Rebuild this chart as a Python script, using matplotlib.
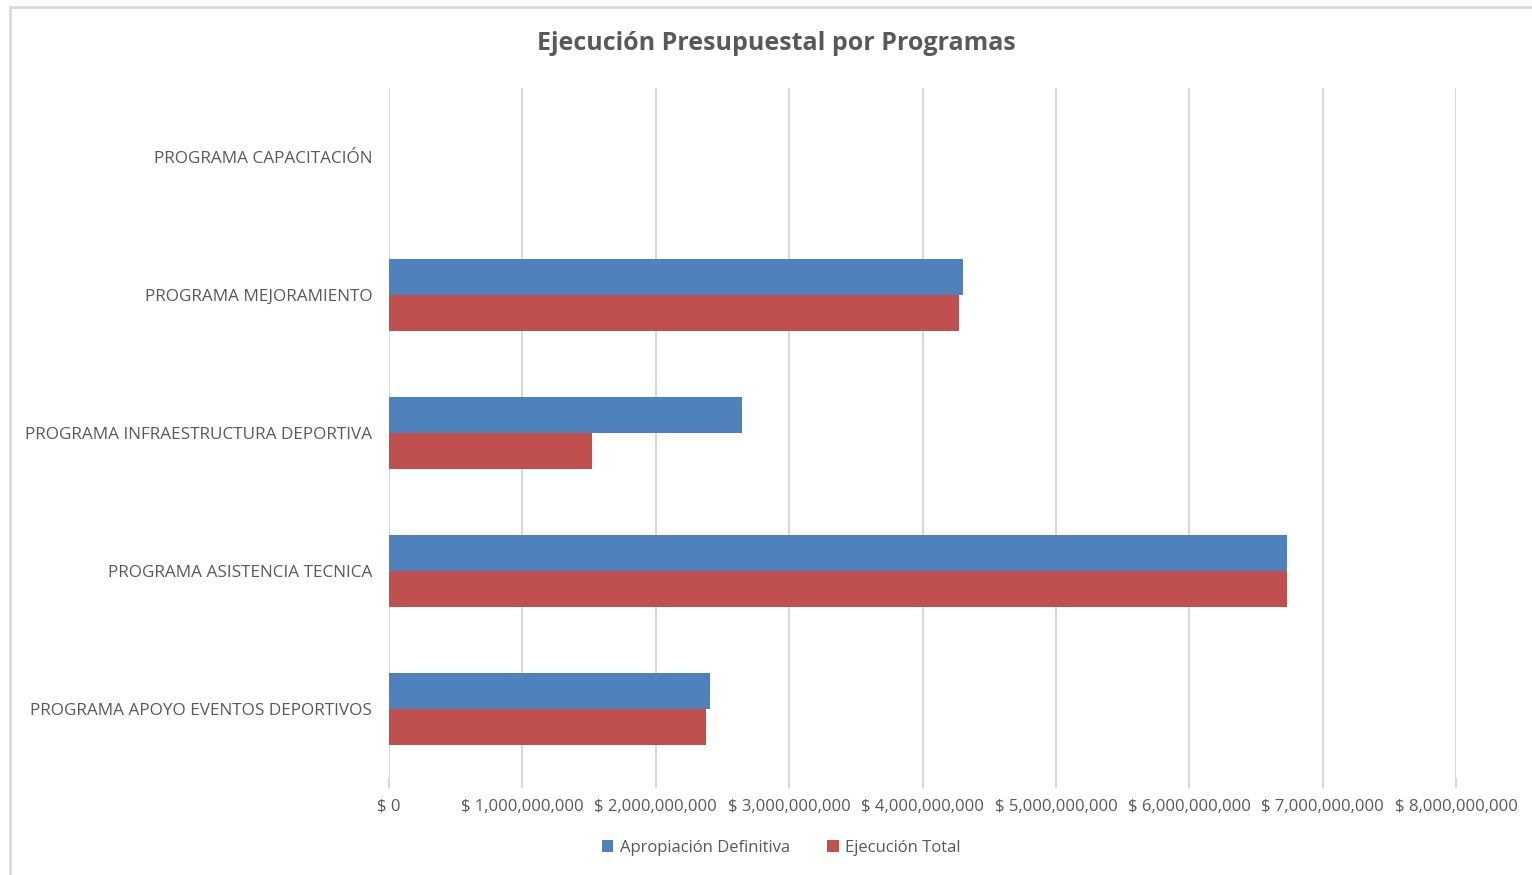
import numpy as np
import matplotlib.pyplot as plt
from matplotlib.patches import Rectangle
from matplotlib.ticker import FuncFormatter

programas = ['PROGRAMA APOYO EVENTOS DEPORTIVOS', 'PROGRAMA ASISTENCIA TECNICA',
             'PROGRAMA INFRAESTRUCTURA DEPORTIVA', 'PROGRAMA MEJORAMIENTO',
             'PROGRAMA CAPACITACIÓN']
apropiacion = [2.41e9, 6.73e9, 2.65e9, 4.30e9, 0]
ejecucion = [2.38e9, 6.73e9, 1.52e9, 4.27e9, 0]
series = ['Apropiación Definitiva', 'Ejecución Total']

plt.rcParams['font.family'] = ['Open Sans', 'DejaVu Sans']
gris = '#595959'

fig = plt.figure(figsize=(15.32, 8.75), dpi=100)
fig.patches.append(Rectangle((10 / 1532, -0.01), 1.1, 1 - 7 / 875 + 0.01, transform=fig.transFigure,
                             fill=False, edgecolor='#d9d9d9', linewidth=2))
ax = fig.add_axes([389 / 1532, 1 - 778 / 875, (1456 - 389) / 1532, (778 - 88) / 875])

y = np.arange(len(programas))
h = 0.26
ax.barh(y + h / 2, apropiacion, height=h, color='#4f81bd', label=series[0], zorder=3)
ax.barh(y - h / 2, ejecucion, height=h, color='#c0504d', label=series[1], zorder=3)

ax.set_xlim(0, 8e9)
ax.set_ylim(-0.5, 4.5)
ax.set_xticks(np.arange(0, 8.1e9, 1e9))
ax.xaxis.set_major_formatter(FuncFormatter(lambda v, p: f'$ {int(v):,}'))
ax.set_yticks(y)
ax.set_yticklabels(programas)
ax.grid(axis='x', color='#d9d9d9', linewidth=1.5, zorder=0)
for s in ax.spines.values():
    s.set_visible(False)
ax.tick_params(axis='x', colors='#d9d9d9', labelcolor=gris, labelsize=12, length=7, width=1.5, pad=8)
ax.tick_params(axis='y', length=0, labelcolor=gris, labelsize=12.3, pad=12)

fig.text(0.5065, 1 - 44 / 875, 'Ejecución Presupuestal por Programas', ha='center', va='center',
         fontsize=18, fontweight='bold', color=gris)
fig.legend(loc='center', bbox_to_anchor=(0.51, 1 - 848 / 875), ncol=2, frameon=False,
           fontsize=12, labelcolor=gris, handlelength=0.7, handleheight=0.7,
           handletextpad=0.4, columnspacing=2.2)

plt.savefig('out.png', dpi=100)
